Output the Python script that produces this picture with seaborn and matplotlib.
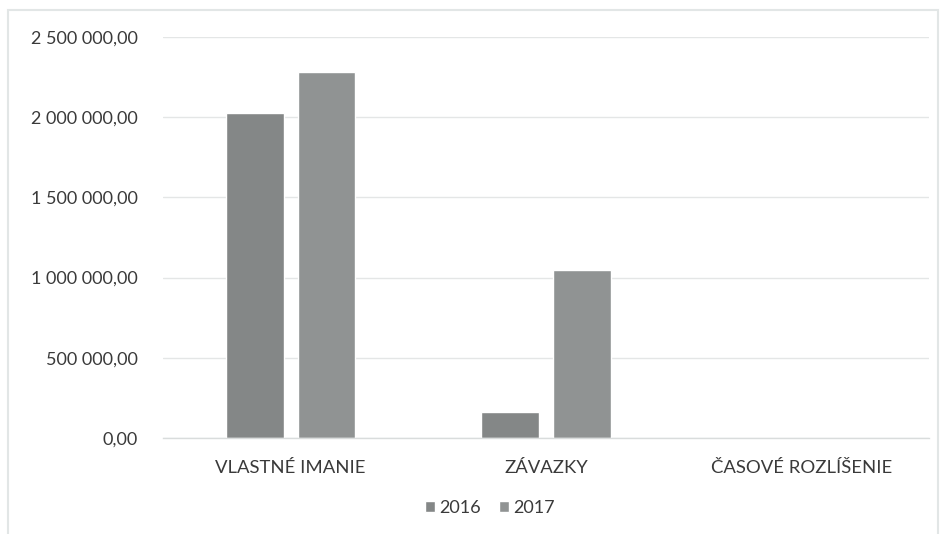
import matplotlib
matplotlib.use("Agg")
import matplotlib.pyplot as plt
import seaborn as sns
import pandas as pd
from matplotlib.patches import Rectangle
from matplotlib.ticker import FuncFormatter

categories = ["VLASTNÉ IMANIE", "ZÁVAZKY", "ČASOVÉ ROZLÍŠENIE"]
years = ["2016", "2017"]
values_2016 = [2025000, 163000, 0]
values_2017 = [2283000, 1046000, 0]
yticks = [0, 500000, 1000000, 1500000, 2000000, 2500000]

df = pd.DataFrame({
    "kategoria": categories * 2,
    "rok": [years[0]] * 3 + [years[1]] * 3,
    "hodnota": values_2016 + values_2017,
})

sns.set_theme(style="white")
plt.rcParams["font.family"] = ["Lato", "DejaVu Sans"]

W, H = 946, 534
fig = plt.figure(figsize=(W / 100, H / 100), dpi=100)
ax = fig.add_axes([163 / W, 96 / H, (929 - 163) / W, (438 - 37) / H])

palette = {"2016": "#848787", "2017": "#909393"}
sns.barplot(data=df, x="kategoria", y="hodnota", hue="rok", order=categories,
            hue_order=years, palette=palette, width=0.561, gap=0.194,
            saturation=1, ax=ax, legend=True)

ax.set_ylim(0, 2500000)
ax.set_xlim(-0.5, 2.5)
ax.set_yticks(yticks)
ax.yaxis.set_major_formatter(FuncFormatter(
    lambda v, p: f"{v:,.2f}".replace(",", " ").replace(".", ",")))
ax.grid(axis="y", color="#e4e6e6", linewidth=1)
ax.set_axisbelow(True)
for s in ["top", "right", "left"]:
    ax.spines[s].set_visible(False)
ax.spines["bottom"].set_color("#d9dcdc")
ax.spines["bottom"].set_linewidth(1)
ax.set_xlabel("")
ax.set_ylabel("")
ax.tick_params(axis="y", length=0, pad=18, labelsize=13, labelcolor="#3a3a3a")
ax.tick_params(axis="x", length=0, pad=16, labelsize=13.3, labelcolor="#3a3a3a")

leg = ax.legend(loc="center", bbox_to_anchor=(490 / W, 1 - 508 / H),
                bbox_transform=fig.transFigure, ncol=2, frameon=False,
                fontsize=13, handlelength=0.55, handleheight=0.55,
                handletextpad=0.25, columnspacing=1.0)
for t in leg.get_texts():
    t.set_color("#3a3a3a")

fig.patches.append(Rectangle((8 / W, -0.01), (938 - 8) / W, 1 - 10 / H + 0.01,
                             transform=fig.transFigure, fill=False,
                             edgecolor="#e2e6e6", linewidth=1.5))

fig.savefig("out.png", dpi=100)
